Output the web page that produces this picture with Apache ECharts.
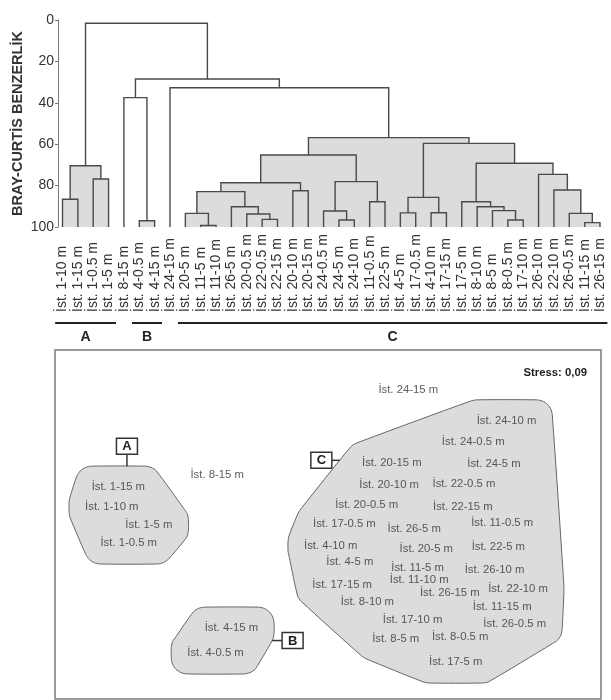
<!DOCTYPE html>
<html>
<head>
<meta charset="utf-8">
<script src="https://cdn.jsdelivr.net/npm/echarts@6/dist/echarts.min.js"></script>
<style>
html,body{margin:0;padding:0;background:#fff;}
#chart{width:611px;height:700px;}
</style>
</head>
<body>
<div id="chart"></div>
<script>
var leaves = ['İst. 1-10 m','İst. 1-15 m','İst. 1-0.5 m','İst. 1-5 m','İst. 8-15 m','İst. 4-0.5 m','İst. 4-15 m',
  'İst. 24-15 m','İst. 20-5 m','İst. 11-5 m','İst. 11-10 m','İst. 26-5 m','İst. 20-0.5 m','İst. 22-0.5 m',
  'İst. 22-15 m','İst. 20-10 m','İst. 20-15 m','İst. 24-0.5 m','İst. 24-5 m','İst. 24-10 m','İst. 11-0.5 m',
  'İst. 22-5 m','İst. 4-5 m','İst. 17-0.5 m','İst. 4-10 m','İst. 17-15 m','İst. 17-5 m','İst. 8-10 m',
  'İst. 8-5 m','İst. 8-0.5 m','İst. 17-10 m','İst. 26-10 m','İst. 22-10 m','İst. 26-0.5 m','İst. 11-15 m','İst. 26-15 m'];

// [left, right, similarity]; index < 36 = leaf, otherwise merge (index - 36)
var merges = [
  [9,10,99.3],[13,14,96.3],[12,37,93.7],[11,38,90.2],[8,36,93.4],[40,39,82.9],[15,16,82.5],[41,42,78.6],
  [18,19,96.6],[17,44,92.3],[20,21,87.8],[45,46,78.1],[43,47,65.2],[22,23,93.2],[24,25,93.1],[49,50,85.7],
  [29,30,96.6],[28,52,92.1],[27,53,90.2],[26,54,87.8],[34,35,97.9],[33,56,93.4],[32,57,82.1],[31,58,74.6],
  [55,59,69.2],[51,60,59.6],[48,61,56.8],[7,62,32.7],[0,1,86.6],[2,3,76.8],[64,65,70.4],[5,6,97.0],
  [4,67,37.5],[68,63,28.5],[66,69,1.6]
];
var fillLevel = 50;
var clusterGroups = [['A',0,3],['B',5,6],['C',8,35]];

// nMDS ordination (same order as leaves)
var nmdsX = [10.4,11.6,13.5,17.2,29.7,29.4,32.3,64.7,68.0,66.4,66.7,65.8,57.1,74.9,74.7,61.2,61.7,76.6,
  80.4,82.7,81.9,81.2,54.0,53.0,50.5,52.6,73.4,57.2,62.4,74.2,65.5,80.5,84.8,84.2,81.9,72.3];
var nmdsY = [55.0,60.7,44.7,49.9,64.2,13.2,20.3,88.5,43.0,37.5,34.1,48.7,55.6,61.6,55.0,61.3,67.6,73.6,
  67.3,79.7,50.4,43.6,39.3,50.1,43.8,32.7,10.6,27.8,17.2,17.8,22.6,37.0,31.5,21.5,26.4,30.4];
var stressText = 'Stress: 0,09';

var FONT = '"Liberation Sans", Arial, sans-serif';
var lineColor = '#4a4a4a';
var fillColor = '#dcdcdc';

// node positions
var nodeX = [], nodeH = [];
for (var i = 0; i < leaves.length; i++) { nodeX.push(i); nodeH.push(100); }
merges.forEach(function (m) {
  nodeX.push((nodeX[m[0]] + nodeX[m[1]]) / 2);
  nodeH.push(m[2]);
});

function px(api, t) {
  var a = api.coord([0, 0])[0], b = api.coord([1, 0])[0];
  return a + t * (b - a);
}

var ctx = document.createElement('canvas').getContext('2d');
function textWidth(s, size) {
  ctx.font = size + 'px "Liberation Sans", Arial';
  return ctx.measureText(s).width;
}

function convexHull(p) {
  p = p.slice().sort(function (a, b) { return a[0] - b[0] || a[1] - b[1]; });
  function cross(o, a, b) { return (a[0]-o[0])*(b[1]-o[1]) - (a[1]-o[1])*(b[0]-o[0]); }
  var lower = [], upper = [];
  for (var i = 0; i < p.length; i++) {
    while (lower.length >= 2 && cross(lower[lower.length-2], lower[lower.length-1], p[i]) <= 0) lower.pop();
    lower.push(p[i]);
  }
  for (var j = p.length - 1; j >= 0; j--) {
    while (upper.length >= 2 && cross(upper[upper.length-2], upper[upper.length-1], p[j]) <= 0) upper.pop();
    upper.push(p[j]);
  }
  upper.pop(); lower.pop();
  return lower.concat(upper);
}

// where a ray from o along d leaves the polygon
function rayExit(poly, o, d) {
  var best = null, bt = -Infinity;
  for (var i = 0; i < poly.length; i++) {
    var p = poly[i], q = poly[(i + 1) % poly.length];
    var ex = q[0] - p[0], ey = q[1] - p[1];
    var den = d[0] * ey - d[1] * ex;
    if (Math.abs(den) < 1e-9) continue;
    var t = ((p[0] - o[0]) * ey - (p[1] - o[1]) * ex) / den;
    var u = ((p[0] - o[0]) * d[1] - (p[1] - o[1]) * d[0]) / den;
    if (t > 0 && u >= 0 && u <= 1 && t > bt) { bt = t; best = [o[0] + t * d[0], o[1] + t * d[1]]; }
  }
  return best;
}

var labelSize = 11.3;
var hullRadius = 16;
var tagDirs = { A: [0, -1, 'top'], B: [1, 0, 'right'], C: [-0.72, -0.69, 'left'] };

var chart = echarts.init(document.getElementById('chart'));
var option = {
  animation: false,
  title: {
    text: stressText, right: 19, top: 362,
    textStyle: { fontFamily: FONT, fontSize: 11.3, fontWeight: 'bold', color: '#222' }
  },
  grid: [
    { left: 54.82, top: 20, width: 552.86, height: 207 },
    { left: 55, top: 350, width: 546, height: 349, show: true, borderColor: '#7a7a7a', borderWidth: 1.5 }
  ],
  xAxis: [{
    gridIndex: 0, type: 'category', data: leaves, boundaryGap: true,
    axisLine: { show: false }, axisTick: { show: false },
    axisLabel: {
      interval: 0, rotate: 90, align: 'left', margin: 85,
      fontFamily: FONT, fontSize: 14, color: '#333'
    }
  }, {
    gridIndex: 1, type: 'value', min: 0, max: 100, show: false
  }],
  yAxis: [{
    gridIndex: 0, type: 'value', inverse: true, min: 0, max: 100, interval: 20, offset: -3.18,
    name: 'BRAY-CURTİS BENZERLİK', nameLocation: 'middle', nameRotate: 90, nameGap: 33,
    nameMoveOverlap: false,
    nameTextStyle: { fontFamily: FONT, fontSize: 14.5, fontWeight: 'bold', color: '#333' },
    axisLine: { show: true, lineStyle: { color: '#777', width: 1 } },
    axisTick: { show: true, length: 3, lineStyle: { color: '#777' } },
    axisLabel: { margin: 4, fontFamily: FONT, fontSize: 14, color: '#333' },
    splitLine: { show: false }
  }, {
    gridIndex: 1, type: 'value', min: 0, max: 100, show: false
  }],
  series: [{
    // fills under clusters
    type: 'custom', xAxisIndex: 0, yAxisIndex: 0, silent: true, clip: false, z: 1,
    data: merges.map(function (m, k) { return [Math.round(nodeX[36 + k]), m[2], k]; })
      .filter(function (d) { return d[1] >= fillLevel; }),
    renderItem: function (params, api) {
      var k = api.value(2), m = merges[k];
      var x1 = px(api, nodeX[m[0]]), x2 = px(api, nodeX[m[1]]);
      var y1 = api.coord([0, m[2]])[1], y2 = api.coord([0, 100])[1];
      return { type: 'rect', shape: { x: x1, y: y1, width: x2 - x1, height: y2 - y1 },
        style: { fill: fillColor } };
    }
  }, {
    // dendrogram branches
    type: 'custom', xAxisIndex: 0, yAxisIndex: 0, silent: true, clip: false, z: 2,
    data: merges.map(function (m, k) { return [Math.round(nodeX[36 + k]), m[2], k]; }),
    renderItem: function (params, api) {
      var k = api.value(2), m = merges[k];
      var xa = px(api, nodeX[m[0]]), xb = px(api, nodeX[m[1]]);
      var y = api.coord([0, m[2]])[1];
      var ya = api.coord([0, nodeH[m[0]]])[1], yb = api.coord([0, nodeH[m[1]]])[1];
      return { type: 'polyline', shape: { points: [[xa, ya], [xa, y], [xb, y], [xb, yb]] },
        style: { stroke: lineColor, lineWidth: 1.4, fill: null } };
    }
  }, {
    // group bars under leaf labels
    type: 'custom', xAxisIndex: 0, yAxisIndex: 0, silent: true, clip: false, z: 2,
    data: clusterGroups.map(function (g) { return [g[1], 100]; }),
    renderItem: function (params, api) {
      var g = clusterGroups[params.dataIndex];
      var base = api.coord([0, 100])[1];
      var x1 = px(api, g[1] - 0.48), x2 = px(api, g[2] + 0.48);
      return { type: 'group', children: [
        { type: 'line', shape: { x1: x1, y1: base + 96, x2: x2, y2: base + 96 },
          style: { stroke: '#222', lineWidth: 2 } },
        { type: 'text', x: (x1 + x2) / 2, y: base + 110,
          style: { text: g[0], fill: '#222', font: 'bold 14px ' + FONT, align: 'center', verticalAlign: 'middle' } }
      ] };
    }
  }, {
    // nMDS hulls
    type: 'custom', xAxisIndex: 1, yAxisIndex: 1, silent: true, clip: false, z: 1,
    data: clusterGroups.map(function () { return [50, 50]; }),
    renderItem: function (params, api) {
      var g = clusterGroups[params.dataIndex];
      var pts = [], sx = 0, sy = 0, n = 0;
      for (var i = g[1]; i <= g[2]; i++) {
        var c = api.coord([nmdsX[i], nmdsY[i]]);
        sx += c[0]; sy += c[1]; n++;
        var hw = textWidth(leaves[i], labelSize) / 2, hh = 5;
        [[-hw, -hh], [hw, -hh], [hw, hh], [-hw, hh]].forEach(function (o) {
          for (var s = 0; s < 16; s++) {
            var a = s / 16 * Math.PI * 2;
            pts.push([c[0] + o[0] + hullRadius * Math.cos(a), c[1] + o[1] + hullRadius * Math.sin(a)]);
          }
        });
      }
      var hull = convexHull(pts);
      var d = tagDirs[g[0]];
      var best = rayExit(hull, [sx / n, sy / n], d);
      var bw = 21, bh = 16, ex, ey, cx, cy;
      if (d[2] === 'top') { ex = best[0]; ey = best[1] - 12; cx = ex; cy = ey - bh / 2; }
      else if (d[2] === 'right') { ex = best[0] + 10; ey = best[1]; cx = ex + bw / 2; cy = ey; }
      else { ex = best[0] - 8; ey = best[1]; cx = ex - bw / 2; cy = ey; }
      return { type: 'group', children: [
        { type: 'polygon', shape: { points: hull, smooth: 0.25 }, style: { fill: fillColor, stroke: '#666', lineWidth: 1 } },
        { type: 'line', shape: { x1: best[0], y1: best[1], x2: ex, y2: ey }, style: { stroke: '#333', lineWidth: 1.5 } },
        { type: 'rect', shape: { x: cx - bw / 2, y: cy - bh / 2, width: bw, height: bh },
          style: { fill: '#fff', stroke: '#333', lineWidth: 1.5 } },
        { type: 'text', x: cx, y: cy + 0.5,
          style: { text: g[0], fill: '#222', font: 'bold 13px ' + FONT, align: 'center', verticalAlign: 'middle' } }
      ] };
    }
  }, {
    // nMDS station labels
    type: 'scatter', xAxisIndex: 1, yAxisIndex: 1, z: 3, silent: true,
    symbolSize: 1, itemStyle: { color: 'rgba(0,0,0,0)' },
    data: leaves.map(function (n, i) { return { name: n, value: [nmdsX[i], nmdsY[i]] }; }),
    label: { show: true, position: 'inside', formatter: '{b}', fontFamily: FONT, fontSize: labelSize, color: '#333' }
  }]
};
chart.setOption(option);
</script>
</body>
</html>
